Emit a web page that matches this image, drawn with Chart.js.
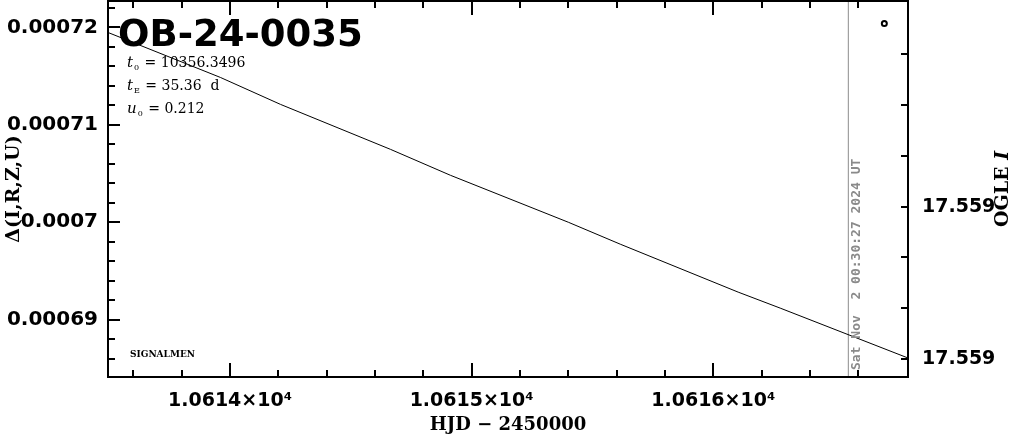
<!DOCTYPE html>
<html>
<head>
<meta charset="utf-8">
<script src="https://cdn.jsdelivr.net/npm/chart.js@4"></script>
<style>
  html, body { margin: 0; padding: 0; background: #fff; }
  canvas { display: block; }
</style>
</head>
<body>
<canvas id="chartCurva" width="1011" height="434"></canvas>
<script>
// model curve (HJD - 2450000, delta flux)
const hjd = [10613.495, 10613.96, 10614.209, 10614.664, 10614.912, 10615.40, 10615.615, 10616.103, 10616.277, 10616.806];
const delta = [0.00071947, 0.00071486, 0.00071209, 0.00070748, 0.00070482, 0.00070000, 0.00069775, 0.00069283, 0.00069119, 0.00068607];

// single marker top right
const puntoX = [10616.708];
const puntoY = [0.00072039];

// "now" line
const ahoraX = 10616.559;
const ahoraTexto = 'Sat Nov  2 00:30:27 2024 UT';

const xMin = 10613.495, xMax = 10616.806;
const yMin = 0.00068412, yMax = 0.00072270;
const magMin = 17.5584953, magMax = 17.5592354;

const xTicks = [10613.6, 10613.8, 10614, 10614.2, 10614.4, 10614.6, 10614.8, 10615, 10615.2, 10615.4, 10615.6, 10615.8, 10616, 10616.2, 10616.4, 10616.6];
const xMayores = [10614, 10615, 10616];
const xEtiquetas = ['1.0614\u00d710\u2074', '1.0615\u00d710\u2074', '1.0616\u00d710\u2074'];

const yTicks = [0.000686, 0.000688, 0.00069, 0.000692, 0.000694, 0.000696, 0.000698, 0.0007, 0.000702, 0.000704, 0.000706, 0.000708, 0.00071, 0.000712, 0.000714, 0.000716, 0.000718, 0.00072, 0.000722];
const yMayores = [0.00069, 0.0007, 0.00071, 0.00072];
const yEtiquetas = ['0.00069', '0.0007', '0.00071', '0.00072'];

const magTicks = [17.5586, 17.5587, 17.5588, 17.5589, 17.559, 17.5591, 17.5592];
const magConEtiqueta = [17.5589, 17.5592];

const titulo = 'OB-24-0035';
const parametros = [['t', '0', ' = 10356.3496'], ['t', 'E', ' = 35.36  d'], ['u', '0', ' = 0.212']];

const fuenteTicks = { family: 'DejaVu Sans', size: 19, weight: 'bold' };

const sinRelleno = s => { s.paddingTop = 0; s.paddingBottom = 0; s.paddingLeft = 0; s.paddingRight = 0; };

const marcoYTicks = {
    id: 'marcoYTicks',
    afterDraw(chart) {
        const { ctx, chartArea: a, scales } = chart;
        ctx.save();
        ctx.strokeStyle = '#000';
        ctx.lineWidth = 2;
        ctx.beginPath();
        // x ticks, bottom and top
        scales.x.ticks.forEach(t => {
            const px = Math.round(scales.x.getPixelForValue(t.value));
            const len = xMayores.indexOf(t.value) >= 0 ? 14 : 7;
            ctx.moveTo(px, a.bottom); ctx.lineTo(px, a.bottom - len);
            ctx.moveTo(px, a.top); ctx.lineTo(px, a.top + len);
        });
        // left ticks
        scales.y.ticks.forEach(t => {
            const py = Math.round(scales.y.getPixelForValue(t.value));
            const len = yMayores.indexOf(t.value) >= 0 ? 12 : 7;
            ctx.moveTo(a.left, py); ctx.lineTo(a.left + len, py);
        });
        // right ticks
        scales.y2.ticks.forEach(t => {
            const py = Math.round(scales.y2.getPixelForValue(t.value));
            ctx.moveTo(a.right, py); ctx.lineTo(a.right - 7, py);
        });
        ctx.stroke();
        ctx.strokeRect(a.left, a.top, a.right - a.left, a.bottom - a.top);

        // title and parameters
        ctx.fillStyle = '#000';
        ctx.textBaseline = 'alphabetic';
        ctx.textAlign = 'left';
        ctx.font = 'bold 37px "DejaVu Sans"';
        ctx.fillText(titulo, a.left + 10, 46);

        parametros.forEach((p, i) => {
            const y = 67 + i * 23;
            let x = a.left + 19;
            ctx.font = 'italic 15px "DejaVu Serif"';
            ctx.fillText(p[0], x, y);
            x += ctx.measureText(p[0]).width + 1;
            ctx.font = '8px "DejaVu Serif"';
            ctx.fillText(p[1], x, y + 3);
            x += ctx.measureText(p[1]).width + 1;
            ctx.font = '14px "DejaVu Serif"';
            ctx.fillText(p[2], x, y);
        });

        ctx.font = 'bold 9px "DejaVu Serif"';
        ctx.textBaseline = 'middle';
        ctx.fillText('SIGNALMEN', a.left + 22, 355);

        // timestamp along the now line
        ctx.save();
        ctx.fillStyle = '#8a8a8a';
        ctx.font = 'bold 13px "DejaVu Sans Mono"';
        ctx.translate(Math.round(scales.x.getPixelForValue(ahoraX)) + 9, 370);
        ctx.rotate(-Math.PI / 2);
        ctx.textAlign = 'left';
        ctx.fillText(ahoraTexto, 0, 0);
        ctx.restore();

        // right axis title, reads bottom to top
        ctx.save();
        ctx.translate(1003, (a.top + a.bottom) / 2);
        ctx.rotate(-Math.PI / 2);
        ctx.textBaseline = 'middle';
        ctx.textAlign = 'left';
        ctx.font = 'bold 19px "DejaVu Serif"';
        const w1 = ctx.measureText('OGLE ').width;
        ctx.font = 'bold italic 19px "DejaVu Serif"';
        const w2 = ctx.measureText('I').width;
        ctx.font = 'bold 19px "DejaVu Serif"';
        ctx.fillText('OGLE ', -(w1 + w2) / 2, 0);
        ctx.font = 'bold italic 19px "DejaVu Serif"';
        ctx.fillText('I', -(w1 + w2) / 2 + w1, 0);
        ctx.restore();
        ctx.restore();
    }
};

new Chart(document.getElementById('chartCurva'), {
    type: 'line',
    data: {
        datasets: [{
            data: hjd.map((x, i) => ({ x, y: delta[i] })),
            borderColor: '#000',
            borderWidth: 1,
            pointRadius: 0,
            tension: 0
        }, {
            data: [{ x: ahoraX, y: yMin }, { x: ahoraX, y: yMax }],
            borderColor: '#8c8c8c',
            borderWidth: 1,
            pointRadius: 0
        }, {
            data: puntoX.map((x, i) => ({ x, y: puntoY[i] })),
            showLine: false,
            pointRadius: 2.5,
            pointBorderWidth: 2,
            pointBorderColor: '#000',
            pointBackgroundColor: 'rgba(0,0,0,0)'
        }]
    },
    options: {
        responsive: false,
        animation: false,
        layout: { autoPadding: false, padding: { top: 1, left: 0, right: 0, bottom: 0 } },
        plugins: { legend: { display: false }, tooltip: { enabled: false } },
        scales: {
            x: {
                type: 'linear',
                position: 'bottom',
                min: xMin,
                max: xMax,
                grid: { display: false, drawTicks: false },
                border: { display: false },
                afterBuildTicks: s => { s.ticks = xTicks.map(v => ({ value: v })); },
                afterFit: s => { s.height = 57; sinRelleno(s); },
                ticks: {
                    autoSkip: false,
                    maxRotation: 0,
                    padding: 13,
                    color: '#000',
                    font: fuenteTicks,
                    callback: v => { const k = xMayores.indexOf(v); return k >= 0 ? xEtiquetas[k] : ''; }
                },
                title: {
                    display: true,
                    text: 'HJD \u2212 2450000',
                    color: '#000',
                    padding: { top: 0, bottom: 0 },
                    font: { family: 'DejaVu Serif', size: 18, weight: 'bold', lineHeight: 1 }
                }
            },
            y: {
                position: 'left',
                min: yMin,
                max: yMax,
                grid: { display: false, drawTicks: false },
                border: { display: false },
                afterBuildTicks: s => { s.ticks = yTicks.map(v => ({ value: v })); },
                afterFit: s => { s.width = 108; sinRelleno(s); },
                ticks: {
                    autoSkip: false,
                    padding: 10,
                    color: '#000',
                    font: { family: 'DejaVu Sans', size: 20, weight: 'bold' },
                    callback: v => { const k = yMayores.indexOf(v); return k >= 0 ? yEtiquetas[k] : ''; }
                },
                title: {
                    display: true,
                    text: '\u0394(I,R,Z,U)',
                    color: '#000',
                    padding: { top: 3, bottom: 0 },
                    font: { family: 'DejaVu Serif', size: 19, weight: 'bold', lineHeight: 1.2 }
                }
            },
            y2: {
                position: 'right',
                reverse: true,
                min: magMin,
                max: magMax,
                grid: { display: false, drawTicks: false },
                border: { display: false },
                afterBuildTicks: s => { s.ticks = magTicks.map(v => ({ value: v })); },
                afterFit: s => { s.width = 103; sinRelleno(s); },
                ticks: {
                    autoSkip: false,
                    padding: 14,
                    color: '#000',
                    font: fuenteTicks,
                    callback: v => magConEtiqueta.indexOf(v) >= 0 ? v.toFixed(3) : ''
                }
            }
        }
    },
    plugins: [marcoYTicks]
});
</script>
</body>
</html>
